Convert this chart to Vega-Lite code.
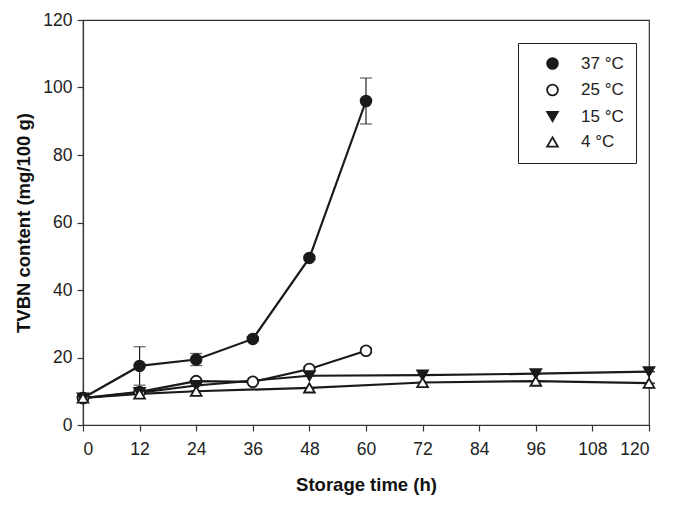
{
  "$schema": "https://vega.github.io/schema/vega-lite/v6.json",
  "width": 566,
  "height": 405,
  "autosize": "none",
  "padding": {"left": 83, "top": 20, "right": 28, "bottom": 82},
  "background": "white",
  "config": {
    "font": "Liberation Sans",
    "view": {"stroke": "#333333", "strokeWidth": 1.2},
    "axis": {
      "grid": false,
      "domainColor": "#333333",
      "tickColor": "#333333",
      "domainWidth": 1.2,
      "tickWidth": 1.2,
      "tickSize": 6,
      "labelFont": "Liberation Sans",
      "labelFontSize": 17.5,
      "labelColor": "#222222",
      "titleFont": "Liberation Sans",
      "titleFontSize": 18.5,
      "titleFontWeight": "bold",
      "titleColor": "#111111"
    },
    "legend": {
      "title": null,
      "orient": "none",
      "legendX": 435,
      "legendY": 23,
      "padding": 12,
      "strokeColor": "#222222",
      "fillColor": "white",
      "labelFont": "Liberation Sans",
      "labelFontSize": 17,
      "labelColor": "#222222",
      "labelOffset": 20,
      "rowPadding": 7.5,
      "symbolSize": 115,
      "symbolStrokeWidth": 1.8,
      "symbolOffset": 14
    }
  },
  "data": {
    "values": [
      {"t": 0, "temp": "37 °C", "v": 8.0, "lo": 8.0, "hi": 8.0},
      {"t": 12, "temp": "37 °C", "v": 17.5, "lo": 11.8, "hi": 23.2},
      {"t": 24, "temp": "37 °C", "v": 19.4, "lo": 17.6, "hi": 21.2},
      {"t": 36, "temp": "37 °C", "v": 25.5, "lo": 24.8, "hi": 26.2},
      {"t": 48, "temp": "37 °C", "v": 49.5, "lo": 49.0, "hi": 50.0},
      {"t": 60, "temp": "37 °C", "v": 96.0, "lo": 89.2, "hi": 102.8},
      {"t": 0, "temp": "25 °C", "v": 8.0, "lo": 8.0, "hi": 8.0},
      {"t": 12, "temp": "25 °C", "v": 9.8, "lo": 9.3, "hi": 10.3},
      {"t": 24, "temp": "25 °C", "v": 13.0, "lo": 12.5, "hi": 13.5},
      {"t": 36, "temp": "25 °C", "v": 12.8, "lo": 12.4, "hi": 13.2},
      {"t": 48, "temp": "25 °C", "v": 16.6, "lo": 16.0, "hi": 17.2},
      {"t": 60, "temp": "25 °C", "v": 22.0, "lo": 21.2, "hi": 22.8},
      {"t": 0, "temp": "15 °C", "v": 8.0, "lo": 8.0, "hi": 8.0},
      {"t": 12, "temp": "15 °C", "v": 9.6, "lo": 9.6, "hi": 9.6},
      {"t": 24, "temp": "15 °C", "v": 11.7, "lo": 11.7, "hi": 11.7},
      {"t": 48, "temp": "15 °C", "v": 14.6, "lo": 14.6, "hi": 14.6},
      {"t": 72, "temp": "15 °C", "v": 14.8, "lo": 14.8, "hi": 14.8},
      {"t": 96, "temp": "15 °C", "v": 15.2, "lo": 15.2, "hi": 15.2},
      {"t": 120, "temp": "15 °C", "v": 15.8, "lo": 15.8, "hi": 15.8},
      {"t": 0, "temp": "4 °C", "v": 8.0, "lo": 8.0, "hi": 8.0},
      {"t": 12, "temp": "4 °C", "v": 9.2, "lo": 9.2, "hi": 9.2},
      {"t": 24, "temp": "4 °C", "v": 10.0, "lo": 10.0, "hi": 10.0},
      {"t": 48, "temp": "4 °C", "v": 11.0, "lo": 11.0, "hi": 11.0},
      {"t": 72, "temp": "4 °C", "v": 12.6, "lo": 12.6, "hi": 12.6},
      {"t": 96, "temp": "4 °C", "v": 13.0, "lo": 13.0, "hi": 13.0},
      {"t": 120, "temp": "4 °C", "v": 12.4, "lo": 12.4, "hi": 12.4}
    ]
  },
  "encoding": {
    "x": {
      "field": "t",
      "type": "quantitative",
      "scale": {"domain": [0, 120], "nice": false},
      "axis": {"values": [0, 12, 24, 36, 48, 60, 72, 84, 96, 108, 120], "title": "Storage time (h)", "labelPadding": 9, "titlePadding": 18}
    },
    "y": {
      "field": "v",
      "type": "quantitative",
      "scale": {"domain": [0, 120], "nice": false},
      "axis": {"values": [0, 20, 40, 60, 80, 100, 120], "title": "TVBN content (mg/100 g)", "labelPadding": 5, "titlePadding": 9}
    }
  },
  "layer": [
    {
      "mark": {"type": "rule", "color": "#222222", "strokeWidth": 1.2},
      "encoding": {"y": {"field": "lo", "type": "quantitative"}, "y2": {"field": "hi"}}
    },
    {
      "mark": {"type": "tick", "orient": "horizontal", "color": "#222222", "thickness": 1.2, "size": 12},
      "encoding": {"y": {"field": "hi", "type": "quantitative"}}
    },
    {
      "mark": {"type": "tick", "orient": "horizontal", "color": "#222222", "thickness": 1.2, "size": 12},
      "encoding": {"y": {"field": "lo", "type": "quantitative"}}
    },
    {
      "mark": {"type": "line", "color": "#1a1a1a", "strokeWidth": 2.2},
      "encoding": {"detail": {"field": "temp"}}
    },
    {
      "mark": {"type": "point", "filled": true, "size": 115, "strokeWidth": 1.8, "opacity": 1},
      "encoding": {
        "shape": {
          "field": "temp",
          "type": "nominal",
          "scale": {"domain": ["37 °C", "25 °C", "15 °C", "4 °C"], "range": ["circle", "circle", "triangle-down", "triangle-up"]},
          "legend": {"title": null}
        },
        "fill": {
          "field": "temp",
          "type": "nominal",
          "scale": {"domain": ["37 °C", "25 °C", "15 °C", "4 °C"], "range": ["#1a1a1a", "white", "#1a1a1a", "white"]},
          "legend": {"title": null}
        },
        "stroke": {
          "field": "temp",
          "type": "nominal",
          "scale": {"domain": ["37 °C", "25 °C", "15 °C", "4 °C"], "range": ["#1a1a1a", "#1a1a1a", "#1a1a1a", "#1a1a1a"]},
          "legend": {"title": null}
        }
      }
    }
  ]
}
